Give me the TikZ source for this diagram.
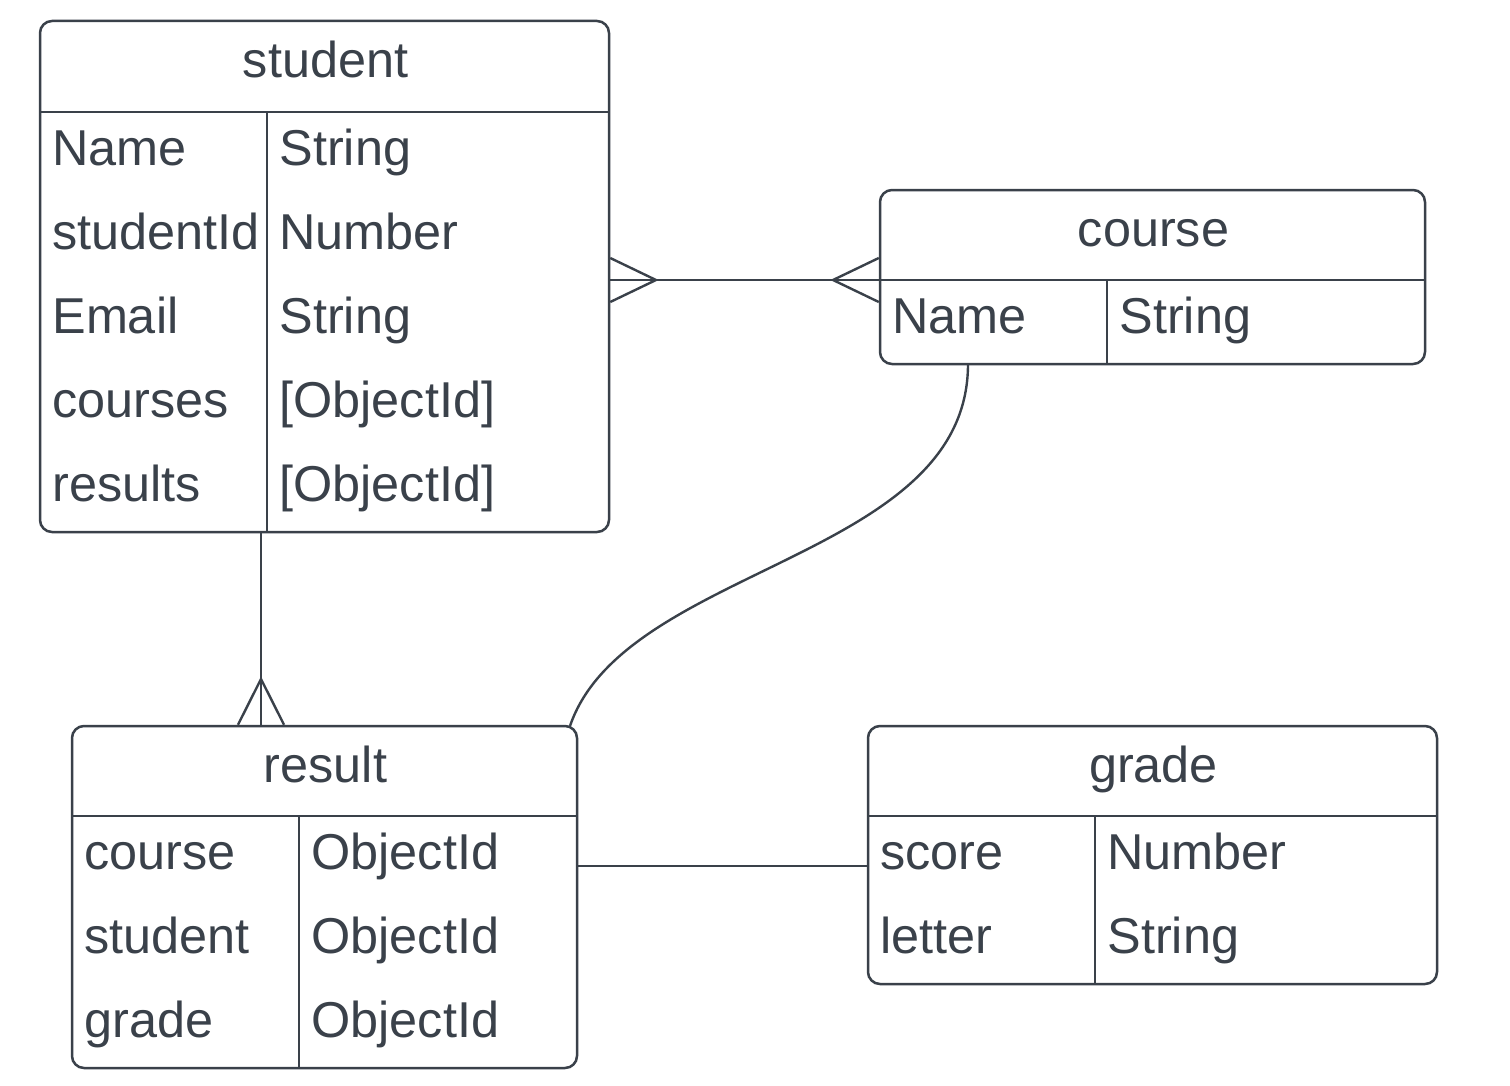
\documentclass[tikz,border=0pt]{standalone}
\usepackage{fontspec}
\setmainfont{Liberation Sans}
\usetikzlibrary{fit}
\definecolor{ink}{HTML}{3A414A}
\begin{document}
\begin{tikzpicture}[x=0.5pt,y=-0.5pt,
  box/.style={draw=ink, line width=1.25pt, rounded corners=6pt, inner sep=0pt, fill=none},
  rule/.style={draw=ink, line width=1.25pt},
  conn/.style={draw=ink, line width=1.2pt},
  lbl/.style={anchor=base west, inner sep=0pt, font=\fontsize{25.2pt}{30pt}\selectfont, text=ink},
  ttl/.style={anchor=base, inner sep=0pt, font=\fontsize{25.2pt}{30pt}\selectfont, text=ink}]
\useasboundingbox (0,0) rectangle (1510,1086);
\fill[white] (0,0) rectangle (1510,1086);

% ---------- student ----------
\node[box, fit={(40,21) (609,532)}] (student) {};
\draw[rule] (40,112) -- (609,112);
\draw[rule] (267,112) -- (267,532);
\node[ttl] (studentT) at (325.5,78) {student};
\node[lbl] (s1a) at (52,165) {Name};      \node[lbl] (s1b) at (279,165) {String};
\node[lbl] (s2a) at (52,249) {studentId}; \node[lbl] (s2b) at (279,249) {Number};
\node[lbl] (s3a) at (52,333) {Email};     \node[lbl] (s3b) at (279,333) {String};
\node[lbl] (s4a) at (52,417) {courses};   \node[lbl] (s4b) at (279,417) {[ObjectId]};
\node[lbl] (s5a) at (52,501) {results};   \node[lbl] (s5b) at (279,501) {[ObjectId]};

% ---------- course ----------
\node[box, fit={(880,190) (1425,364)}] (course) {};
\draw[rule] (880,280) -- (1425,280);
\draw[rule] (1107,280) -- (1107,364);
\node[ttl] (courseT) at (1153.5,246) {course};
\node[lbl] (c1a) at (892,333) {Name}; \node[lbl] (c1b) at (1119,333) {String};

% ---------- result ----------
\node[box, fit={(72,726) (577,1068)}] (result) {};
\draw[rule] (72,816) -- (577,816);
\draw[rule] (299,816) -- (299,1068);
\node[ttl] (resultT) at (325.5,782) {result};
\node[lbl] (r1a) at (84,869) {course};  \node[lbl] (r1b) at (311,869) {ObjectId};
\node[lbl] (r2a) at (84,953) {student}; \node[lbl] (r2b) at (311,953) {ObjectId};
\node[lbl] (r3a) at (84,1037) {grade};  \node[lbl] (r3b) at (311,1037) {ObjectId};

% ---------- grade ----------
\node[box, fit={(868,726) (1437,984)}] (grade) {};
\draw[rule] (868,816) -- (1437,816);
\draw[rule] (1095,816) -- (1095,984);
\node[ttl] (gradeT) at (1153.5,782) {grade};
\node[lbl] (g1a) at (880,869) {score};  \node[lbl] (g1b) at (1107,869) {Number};
\node[lbl] (g2a) at (880,953) {letter}; \node[lbl] (g2b) at (1107,953) {String};

% ---------- connectors ----------
\coordinate (scy) at (0,280);
\draw[conn] (student.east |- scy) -- (course.west |- scy);
% crow's feet student side
\coordinate (sfT) at (656,280);
\draw[conn] (student.east |- 0,258) -- (sfT) -- (student.east |- 0,302);
% crow's feet course side
\coordinate (cfT) at (833,280);
\draw[conn] (course.west |- 0,258) -- (cfT) -- (course.west |- 0,302);

% student -- result
\coordinate (srx) at (261,0);
\draw[conn] (student.south -| srx) -- (result.north -| srx);
\coordinate (rfT) at (261,679);
\draw[conn] (result.north -| 238,0) -- (rfT) -- (result.north -| 284,0);

% course -- result curve
\coordinate (crS) at (968,364);
\coordinate (crE) at (570,726);
\draw[conn] (crS) .. controls (968,560) and (625,565) .. (crE);

% result -- grade
\coordinate (rgy) at (0,866);
\draw[conn] (result.east |- rgy) -- (grade.west |- rgy);
\end{tikzpicture}
\end{document}
